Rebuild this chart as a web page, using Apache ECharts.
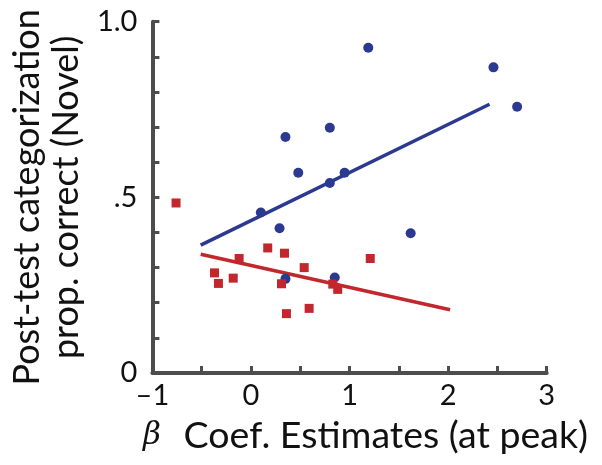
<!DOCTYPE html>
<html><head><meta charset="utf-8">
<script src="https://cdn.jsdelivr.net/npm/echarts@6/dist/echarts.min.js"></script>
<style>html,body{margin:0;padding:0;background:#fff}#c{width:602px;height:465px}</style>
</head><body><div id="c"></div>
<script>
// Blue group (circles)
const blueX = [1.19, 2.46, 2.70, 0.35, 0.80, 0.48, 0.80, 0.95, 0.10, 0.29, 1.62, 0.35, 0.85];
const blueY = [0.926, 0.870, 0.758, 0.672, 0.698, 0.570, 0.541, 0.570, 0.457, 0.412, 0.398, 0.268, 0.272];
// Red group (squares)
const redX = [-0.76, 0.17, 0.34, -0.12, 1.21, 0.54, -0.37, -0.33, -0.18, 0.31, 0.83, 0.88, 0.36, 0.59];
const redY = [0.484, 0.356, 0.341, 0.326, 0.326, 0.300, 0.285, 0.255, 0.270, 0.254, 0.253, 0.238, 0.169, 0.184];
// Fit lines (endpoints)
const blueFitX = [-0.51, 2.42];
const blueFitY = [0.364, 0.765];
const redFitX = [-0.51, 2.02];
const redFitY = [0.338, 0.180];
const xTickLabels = {"-1": "\u20131", "0": "0", "1": "1", "2": "2", "3": "3"};
const yTickLabels = {"0": "0", "0.5": ".5", "1": "1.0"};

const BLUE = '#2b3990', RED = '#c1272d', AX = '#4d4d4d';
const zip = (a, b) => a.map((v, i) => [v, b[i]]);
const font = 'Lato';

const chart = echarts.init(document.getElementById('c'), null, {renderer: 'canvas'});
chart.setOption({
  animation: false,
  grid: {left: 146.7, right: 55.3, top: 21.7, bottom: 92, containLabel: false},
  xAxis: {
    type: 'value', min: -1, max: 3, interval: 0.5,
    axisLine: {onZero: false, lineStyle: {color: AX, width: 4}},
    axisTick: {inside: true, length: 7, lineStyle: {color: AX, width: 3}},
    splitLine: {show: false},
    axisLabel: {
      margin: 8, color: '#111', fontSize: 29, fontFamily: font,
      formatter: v => { const k = String(Math.round(v * 10) / 10); return xTickLabels[k] !== undefined ? xTickLabels[k] : ''; }
    },
    name: '{b|\u03b2} Coef. Estimates (at peak)',
    nameLocation: 'middle', nameGap: 44,
    nameTextStyle: {fontSize: 37.5, fontFamily: font, color: '#111', padding: [0, 0, 0, 32],
      rich: {b: {fontFamily: 'DejaVu Serif', fontStyle: 'italic', fontSize: 31, color: '#111', padding: [0, 13, 0, 0]}}}
  },
  yAxis: {
    type: 'value', min: 0, max: 1, interval: 0.1,
    axisLine: {onZero: false, lineStyle: {color: AX, width: 4}},
    axisTick: {inside: true, length: 7, lineStyle: {color: AX, width: 3}},
    splitLine: {show: false},
    axisLabel: {
      margin: 15, color: '#111', fontSize: 29, fontFamily: font,
      formatter: v => { const k = String(Math.round(v * 10) / 10); return yTickLabels[k] !== undefined ? yTickLabels[k] : ''; }
    },
    name: 'Post-test categorization\nprop. correct (Novel)',
    nameLocation: 'middle', nameGap: 58, nameRotate: 90,
    nameTextStyle: {fontSize: 36, fontFamily: font, color: '#111', lineHeight: 39}
  },
  series: [
    {type: 'line', data: zip(blueFitX, blueFitY), symbol: 'none', lineStyle: {color: BLUE, width: 3.5}, z: 2},
    {type: 'line', data: zip(redFitX, redFitY), symbol: 'none', lineStyle: {color: RED, width: 3.5}, z: 2},
    {type: 'scatter', data: zip(blueX, blueY), symbol: 'circle', symbolSize: 10, itemStyle: {color: BLUE, opacity: 1}, z: 3},
    {type: 'scatter', data: zip(redX, redY), symbol: 'rect', symbolSize: 9, itemStyle: {color: RED, opacity: 1}, z: 4}
  ]
});
</script></body></html>
